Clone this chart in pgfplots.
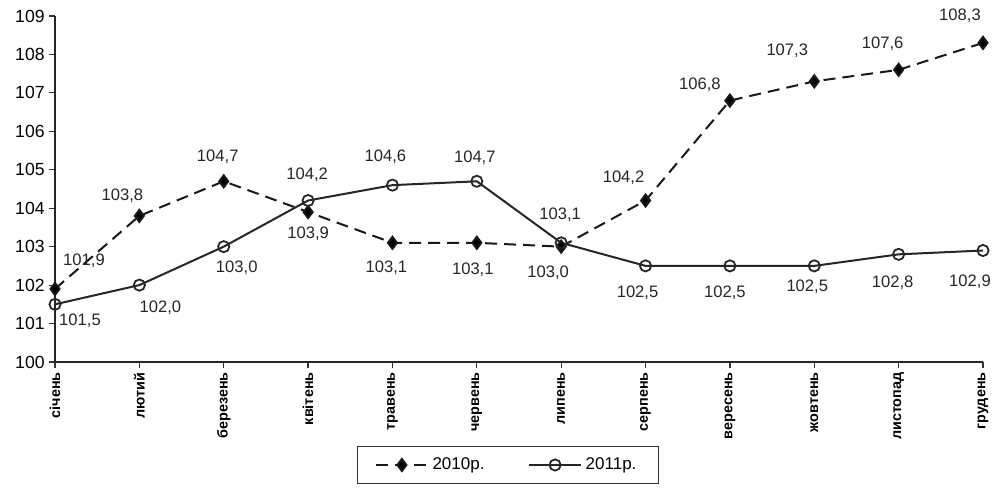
\documentclass[border=0pt]{standalone}
\usepackage{pgfplots}
\pgfplotsset{compat=1.18}
\usepackage{pgfplotstable}
\usepackage{fontspec}
\setmainfont{Liberation Sans}

% x  value  label offset (pt)
\pgfplotstableread{
x y dx dy
0 101.9 14.5 14
1 103.8 -8.5 10
2 104.7 -3 12.5
3 103.9 0 -11
4 103.1 -3 -12.5
5 103.1 -2 -13.5
6 103.0 -6.5 -13
7 104.2 -11 11.5
8 106.8 -15 8
9 107.3 -13.5 15.5
10 107.6 -8 13
11 108.3 -11.5 13.5
}\dataA

\pgfplotstableread{
x y dx dy
0 101.5 12.5 -8
1 102.0 10.5 -11.5
2 103.0 6.5 -10.5
3 104.2 -0.5 13
4 104.6 -3.5 14
5 104.7 -1 12
6 103.1 -0.5 14
7 102.5 -4 -13.5
8 102.5 -2.5 -13.5
9 102.5 -3.5 -10.5
10 102.8 -3 -14
11 102.9 -6.5 -15.5
}\dataB

\begin{document}
\begin{tikzpicture}
\begin{axis}[
  scale only axis,
  width=464pt, height=173pt,
  xmin=0, xmax=11,
  ymin=100, ymax=109,
  ytick={100,101,...,109},
  xtick={0,...,11},
  xticklabels={січень,лютий,березень,квітень,травень,червень,липень,серпень,вересень,жовтень,листопад,грудень},
  x tick label style={rotate=90, anchor=east, font=\bfseries\fontsize{7.2}{8}\selectfont, inner sep=2pt},
  y tick label style={font=\fontsize{8.8}{10}\selectfont, inner sep=2pt},
  /pgf/number format/assume math mode=true,
  axis lines*=left,
  axis line style={line width=1pt, black!85},
  tick align=outside,
  major tick length=3pt,
  tick style={black!80, line width=0.6pt},
  clip=false,
  legend columns=2,
  legend style={at={(0.488,0)}, anchor=center, yshift=-51.5pt,
    draw=black!80, line width=0.6pt, font=\fontsize{8.5}{10}\selectfont,
    /tikz/every even column/.append style={column sep=20pt},
    inner xsep=9pt, inner ysep=3.5pt},
  legend image code/.code={\draw[mark repeat=2,mark phase=2] plot coordinates {(0cm,0cm) (0.45cm,0cm) (0.9cm,0cm)};},
  nodes near coords={\pgfmathprintnumber[fixed,fixed zerofill,precision=1,use comma]{\pgfplotspointmeta}},
  point meta=y,
  every node near coord/.append style={font=\fontsize{8.3}{10}\selectfont, anchor=center, xshift=\dx pt, yshift=\dy pt, text=black!85},
  visualization depends on={\thisrow{dx} \as \dx},
  visualization depends on={\thisrow{dy} \as \dy},
]
\coordinate (sw) at (rel axis cs:0,0);
\coordinate (ne) at (rel axis cs:1,1);
\addplot[black!90, line width=1pt, dash pattern=on 6pt off 3.5pt,
  mark=diamond*, mark size=3pt, mark options={solid, fill=black}] table[x=x,y=y] {\dataA};
\addlegendentry{2010р.}
\addplot[black!85, line width=1pt,
  mark=o, mark size=2.8pt, mark options={solid, fill=white, line width=0.9pt}] table[x=x,y=y] {\dataB};
\addlegendentry{2011р.}
\end{axis}
\pgfresetboundingbox
\path ([shift={(-27.5pt,-66.5pt)}]sw) rectangle ([shift={(4.5pt,8pt)}]ne);
\end{tikzpicture}
\end{document}
